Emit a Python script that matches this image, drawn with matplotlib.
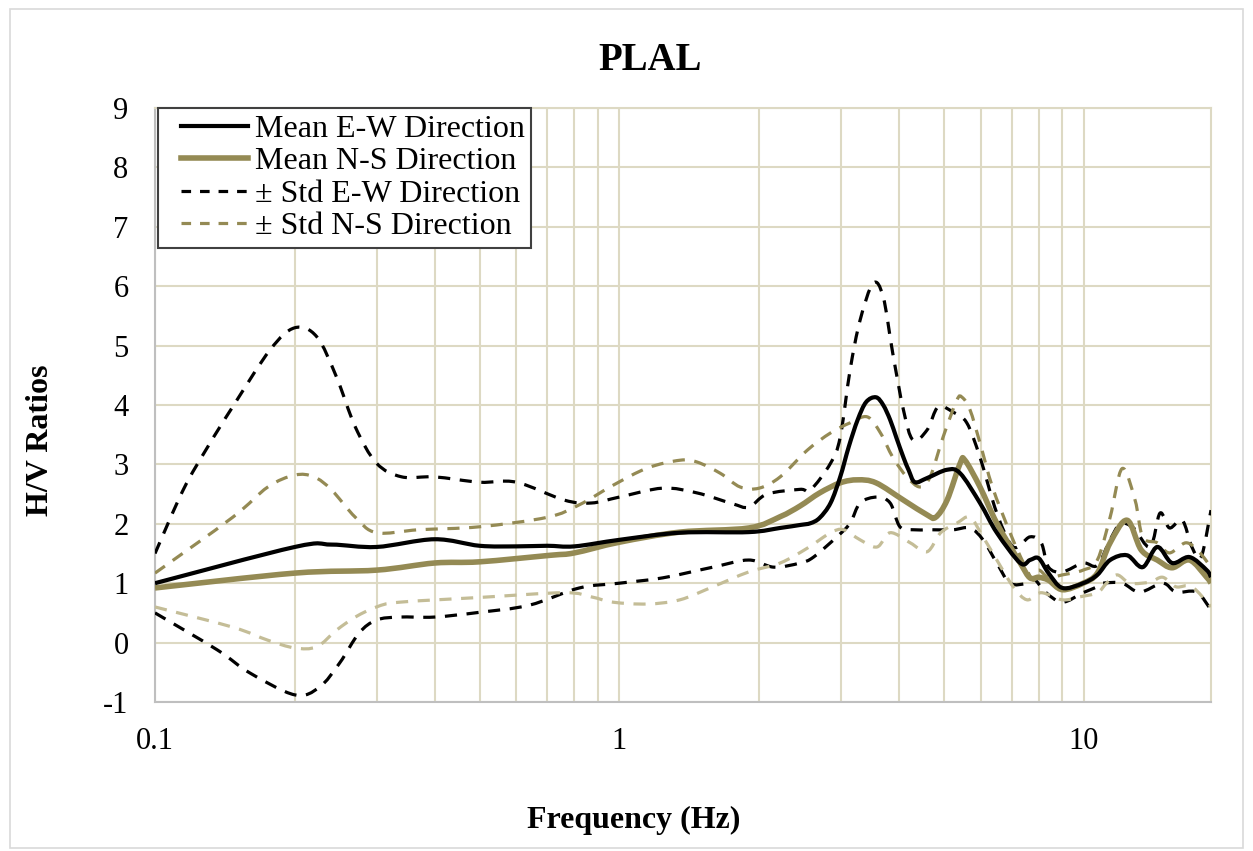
import numpy as np
import matplotlib.pyplot as plt
from matplotlib.patches import Rectangle, PathPatch
from matplotlib.path import Path
from matplotlib.legend_handler import HandlerLine2D

# Mean E-W
ew_mean_f = [0.1, 0.2, 0.24, 0.3, 0.4, 0.5, 0.6, 0.7, 0.8, 1.0, 1.35, 1.9, 2.22, 2.45,
             2.58, 2.7, 2.85, 2.99, 3.12, 3.26, 3.4, 3.57, 3.7, 3.83, 3.95, 4.09, 4.2, 4.33,
             4.6, 5.08, 5.42, 5.98, 6.5, 7.3, 7.66, 8.0, 8.4, 9.0, 9.97, 10.7, 11.4, 12.4,
             13.4, 14.4, 15.5, 16.9, 18.4, 18.8]
ew_mean = [1.0, 1.61, 1.65, 1.61, 1.74, 1.63, 1.62, 1.63, 1.62, 1.73, 1.85, 1.86, 1.93, 1.98,
           2.01, 2.1, 2.35, 2.79, 3.3, 3.75, 4.05, 4.13, 4.0, 3.75, 3.45, 3.12, 2.9, 2.70,
           2.77, 2.91, 2.85, 2.35, 1.85, 1.34, 1.39, 1.42, 1.17, 0.92, 1.0, 1.14, 1.39, 1.47,
           1.27, 1.61, 1.34, 1.44, 1.22, 1.1]

# Mean N-S
ns_mean_f = [0.1, 0.2, 0.3, 0.4, 0.5, 0.71, 0.8, 1.0, 1.35, 1.9, 2.22, 2.45, 2.7, 2.99, 3.26,
             3.57, 4.09, 4.6, 4.8, 5.08, 5.42, 5.55, 5.98, 6.5, 7.3, 7.66, 8.0, 8.4, 9.0, 9.97,
             10.7, 11.4, 12.4, 13.3, 14.4, 15.5, 16.9, 18.4, 18.8]
ns_mean = [0.92, 1.17, 1.22, 1.34, 1.36, 1.47, 1.51, 1.69, 1.86, 1.93, 2.12, 2.30, 2.52, 2.69, 2.74,
           2.69, 2.40, 2.15, 2.11, 2.40, 3.02, 3.07, 2.62, 2.01, 1.34, 1.09, 1.10, 1.05, 0.89, 1.0,
           1.17, 1.68, 2.06, 1.56, 1.39, 1.26, 1.39, 1.10, 1.0]

# +/- Std E-W
ew_hi_f = [0.1, 0.115, 0.13, 0.147, 0.177, 0.2, 0.223, 0.246, 0.27, 0.3, 0.34, 0.4, 0.5, 0.6,
           0.76, 0.87, 1.0, 1.24, 1.47, 1.75, 1.9, 2.08, 2.45, 2.58, 2.85, 2.99, 3.14, 3.3, 3.52,
           3.7, 3.88, 4.09, 4.29, 4.6, 4.86, 5.23, 5.6, 5.98, 6.5, 7.05, 7.66, 8.1, 8.4, 9.0,
           9.97, 10.7, 11.4, 12.0, 12.8, 13.9, 14.6, 15.3, 16.3, 17.1, 17.9, 18.8]
ew_hi = [1.5, 2.57, 3.3, 3.97, 4.93, 5.30, 5.15, 4.47, 3.63, 3.02, 2.79, 2.79, 2.70, 2.70,
         2.40, 2.35, 2.45, 2.60, 2.52, 2.34, 2.28, 2.50, 2.58, 2.57, 3.02, 3.46, 4.59, 5.43, 6.05,
         5.82, 4.87, 3.92, 3.41, 3.58, 3.97, 3.88, 3.70, 3.12, 2.18, 1.61, 1.78, 1.68, 1.27, 1.19,
         1.34, 1.30, 1.73, 2.0, 1.93, 1.61, 2.18, 1.93, 2.06, 1.61, 1.44, 2.23]
ew_lo_f = [0.1, 0.136, 0.16, 0.2, 0.226, 0.25, 0.275, 0.3, 0.336, 0.4, 0.5, 0.64, 0.82, 1.0,
           1.24, 1.59, 1.9, 2.15, 2.45, 2.62, 2.94, 3.14, 3.3, 3.59, 3.83, 4.02, 4.29, 4.67,
           5.23, 5.69, 6.07, 6.5, 6.94, 7.55, 7.8, 8.3, 9.0, 9.97, 10.7, 11.0, 12.1, 13.2,
           14.8, 15.8, 17.5, 18.8]
ew_lo = [0.5, -0.12, -0.51, -0.88, -0.75, -0.34, 0.16, 0.38, 0.43, 0.43, 0.51, 0.63, 0.92, 1.0,
         1.09, 1.27, 1.39, 1.27, 1.34, 1.44, 1.78, 2.01, 2.35, 2.45, 2.35, 1.95, 1.90, 1.90,
         1.90, 1.93, 1.73, 1.34, 1.0, 1.0, 1.08, 0.84, 0.68, 0.84, 0.94, 1.0, 1.0, 0.85,
         1.0, 0.85, 0.85, 0.55]

# +/- Std N-S
ns_hi_f = [0.1, 0.147, 0.175, 0.2, 0.22, 0.24, 0.27, 0.3, 0.37, 0.5, 0.7, 0.82, 0.97, 1.15,
           1.35, 1.47, 1.65, 1.82, 2.0, 2.22, 2.54, 2.85, 3.14, 3.42, 3.65, 3.88, 4.16, 4.44,
           4.67, 4.98, 5.33, 5.47, 5.69, 5.98, 6.36, 6.94, 7.42, 7.79, 8.0, 8.4, 9.0, 9.97,
           10.7, 11.4, 12.1, 12.9, 13.4, 14.4, 15.3, 16.6, 17.7, 18.8]
ns_hi = [1.17, 2.11, 2.62, 2.82, 2.79, 2.57, 2.11, 1.85, 1.90, 1.95, 2.11, 2.32, 2.65, 2.94,
         3.07, 3.04, 2.85, 2.62, 2.60, 2.79, 3.24, 3.53, 3.70, 3.80, 3.53, 3.12, 2.79, 2.62,
         2.79, 3.46, 4.08, 4.13, 3.92, 3.36, 2.62, 1.85, 1.34, 1.05, 1.22, 1.10, 1.14, 1.22,
         1.39, 2.11, 2.93, 2.40, 1.78, 1.68, 1.51, 1.68, 1.53, 1.27]
ns_lo_f = [0.1, 0.147, 0.175, 0.2, 0.223, 0.246, 0.27, 0.3, 0.336, 0.5, 0.76, 0.87, 0.97, 1.15,
           1.35, 1.59, 1.9, 2.22, 2.54, 2.85, 3.04, 3.3, 3.59, 3.83, 4.23, 4.6, 4.92, 5.33,
           5.69, 6.07, 6.5, 7.05, 7.55, 8.1, 9.0, 9.8, 10.7, 11.2, 11.8, 12.6, 13.9, 14.8,
           15.8, 17.1, 18.8]
ns_lo = [0.6, 0.26, 0.04, -0.09, -0.07, 0.21, 0.43, 0.6, 0.68, 0.76, 0.84, 0.77, 0.68, 0.65,
         0.72, 0.94, 1.19, 1.34, 1.59, 1.85, 1.90, 1.73, 1.61, 1.85, 1.68, 1.53, 1.85, 2.01,
         2.11, 1.78, 1.39, 0.94, 0.72, 0.84, 0.72, 0.77, 0.84, 1.0, 1.14, 1.0, 1.02, 1.1,
         0.94, 0.94, 0.6]

black = "#000000"
olive = "#948A54"
light_olive = "#C4BD97"
grid_col = "#DDD9C3"


def smooth_path(xs, ys):
    """Excel-like smoothed line: cubic Bezier segments through the points."""
    lx = np.log10(xs)
    y = np.asarray(ys, dtype=float)
    n = len(lx)
    verts = [(xs[0], ys[0])]
    codes = [Path.MOVETO]
    for i in range(n - 1):
        i0 = max(i - 1, 0)
        i3 = min(i + 2, n - 1)
        c1 = (lx[i] + (lx[i + 1] - lx[i0]) / 6, y[i] + (y[i + 1] - y[i0]) / 6)
        c2 = (lx[i + 1] - (lx[i3] - lx[i]) / 6, y[i + 1] - (y[i3] - y[i]) / 6)
        verts += [(10 ** c1[0], c1[1]), (10 ** c2[0], c2[1]), (xs[i + 1], ys[i + 1])]
        codes += [Path.CURVE4] * 3
    return Path(verts, codes)


plt.rcParams["font.family"] = ["Liberation Serif", "DejaVu Serif"]
plt.rcParams["axes.unicode_minus"] = False

fig = plt.figure(figsize=(12.53, 8.51), dpi=100)
fig.patches.append(Rectangle((10 / 1253, 3 / 851), 1233 / 1253, 839 / 851,
                             transform=fig.transFigure, fill=False,
                             edgecolor="#d9d9d9", linewidth=1.2))
ax = fig.add_axes([155 / 1253, 149 / 851, 1056 / 1253, 594 / 851])

dash = (0, (3.8, 3.0))
series = [
    (ew_hi_f, ew_hi, black, 2.3, dash, 3),
    (ew_lo_f, ew_lo, black, 2.3, dash, 3),
    (ns_hi_f, ns_hi, olive, 2.3, dash, 3),
    (ns_lo_f, ns_lo, light_olive, 2.3, dash, 3),
    (ns_mean_f, ns_mean, olive, 4.0, "-", 4),
    (ew_mean_f, ew_mean, black, 3.0, "-", 5),
]
for xs, ys, col, lw, ls, z in series:
    ax.add_patch(PathPatch(smooth_path(xs, ys), fill=False, edgecolor=col, lw=lw,
                           linestyle=ls, capstyle="butt", joinstyle="round", zorder=z))

# legend entries
leg_dash = (0, (3.0, 2.8))
ax.plot([], [], color=black, lw=3.0, label="Mean E-W Direction")
ax.plot([], [], color=olive, lw=4.0, label="Mean N-S Direction")
ax.plot([], [], color=black, lw=2.3, ls=leg_dash, label="\u00b1 Std E-W Direction")
ax.plot([], [], color=olive, lw=2.3, ls=leg_dash, label="\u00b1 Std N-S Direction")

ax.set_xscale("log")
ax.set_xlim(0.1, 18.8)
ax.set_ylim(-1, 9)
ax.set_yticks(range(-1, 10))
ax.set_xticks([0.1, 1, 10])
ax.set_xticklabels(["0.1", "1", "10"])
ax.tick_params(axis="both", which="both", length=0, labelsize=22)
ax.tick_params(axis="y", pad=19)
ax.tick_params(axis="x", pad=18)
ax.grid(True, which="both", axis="x", color=grid_col, lw=1.5)
ax.grid(True, which="major", axis="y", color=grid_col, lw=1.5)
ax.minorticks_on()
ax.set_yticks([], minor=True)
ax.xaxis.set_minor_formatter(plt.NullFormatter())
ax.set_axisbelow(True)
for side in ["top", "right"]:
    ax.spines[side].set_color(grid_col)
    ax.spines[side].set_linewidth(1.5)
for side in ["left", "bottom"]:
    ax.spines[side].set_color("#bfbfbf")
    ax.spines[side].set_linewidth(1.5)

fig.text(650 / 1253, 1 - 60 / 851, "PLAL", fontsize=28, fontweight="bold",
         ha="center", va="center")
fig.text(41 / 1253, 1 - 440 / 851, "H/V Ratios", fontsize=23, fontweight="bold",
         ha="center", va="center", rotation=90)
fig.text(634 / 1253, 1 - 820 / 851, "Frequency (Hz)", fontsize=23, fontweight="bold",
         ha="center", va="center")

leg = ax.legend(loc="upper left", bbox_to_anchor=(0.003, 1.0), borderaxespad=0,
                fontsize=23, frameon=True, fancybox=False, framealpha=1,
                edgecolor="#404040", handlelength=2.6, handletextpad=0.22,
                labelspacing=0.1, borderpad=0.2,
                handler_map={plt.Line2D: HandlerLine2D(xpad=0.5)})
leg.get_frame().set_linewidth(1.5)
leg.set_zorder(10)

fig.savefig("out.png", dpi=100)
